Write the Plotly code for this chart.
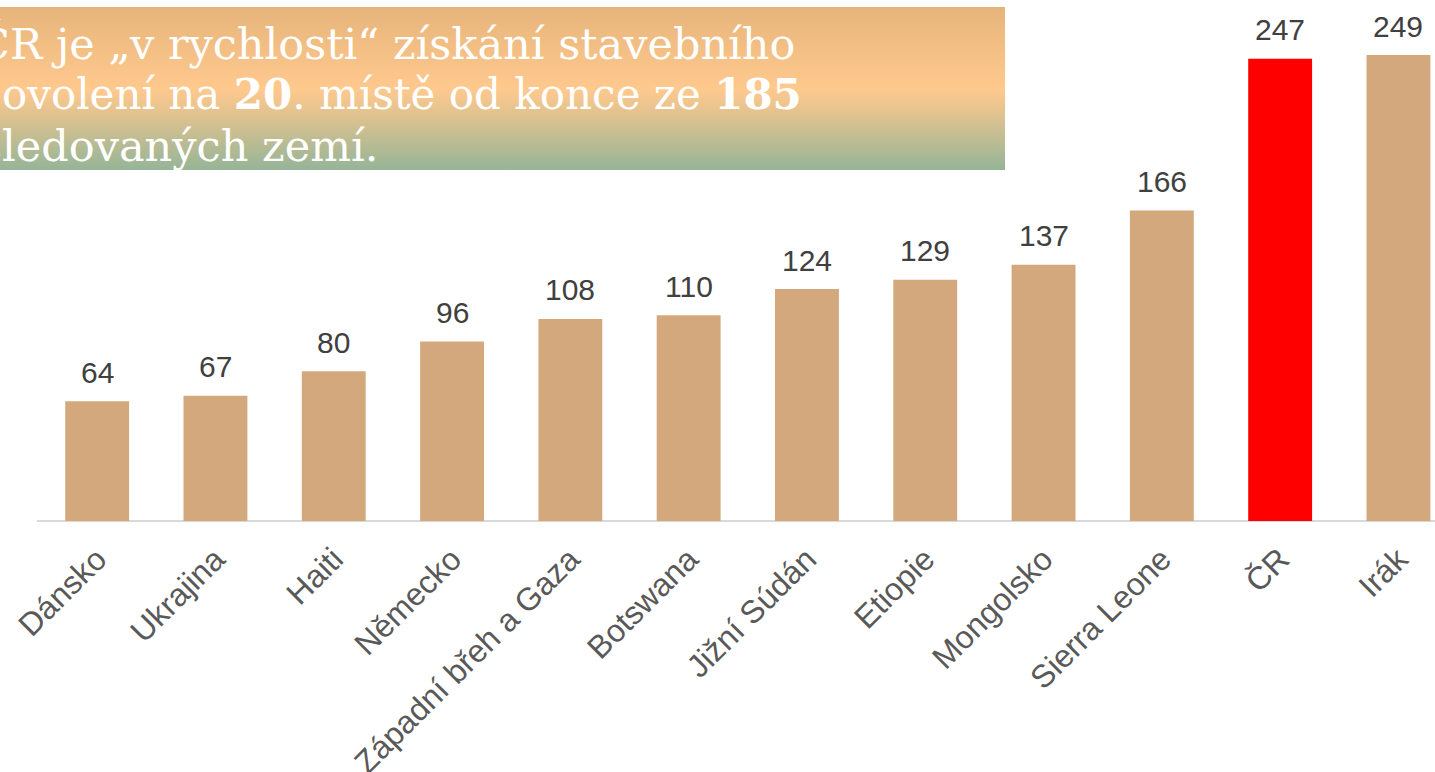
import plotly.graph_objects as go

categories = ["Dánsko", "Ukrajina", "Haiti", "Německo", "Západní břeh a Gaza", "Botswana",
              "Jižní Súdán", "Etiopie", "Mongolsko", "Sierra Leone", "ČR", "Irák"]
values = [64, 67, 80, 96, 108, 110, 124, 129, 137, 166, 247, 249]
highlight = "ČR"

title_lines = ["ČR je „v rychlosti“ získání stavebního",
               "povolení na <b>20</b>. místě od konce ze <b>185</b>",
               "sledovaných zemí."]

W, H = 1435, 772
BASE = 521          # baseline pixel row
STEP = 118.3        # category slot width, px
X0 = 38             # left edge of first slot, px
TAN = "#D3A87C"
colors = ["#FF0000" if c == highlight else TAN for c in categories]

fig = go.Figure()

# gradient title box on a pixel-unit overlay axis
fig.add_trace(go.Scatter(
    x=[0, 1005, 1005, 0, 0], y=[7, 7, 170, 170, 7], xaxis="x2", yaxis="y2",
    mode="lines", line=dict(width=0), fill="toself", hoverinfo="skip",
    fillgradient=dict(type="vertical", start=170, stop=7,
                      colorscale=[[0.0, "#95B597"], [0.38, "#E9C48F"], [0.5, "#FFC98E"],
                                  [1.0, "#E6B47A"]])))

fig.add_trace(go.Bar(x=categories, y=values, marker=dict(color=colors, line=dict(width=0)),
                     width=0.54, hoverinfo="x+y"))

# value labels
for c, v in zip(categories, values):
    fig.add_annotation(x=c, y=v, text=str(v), showarrow=False, yanchor="middle", yshift=29,
                       font=dict(family="Liberation Sans, Arial", size=30, color="#404040"))

# title lines (first letters cut off by the page edge)
line_y = [44, 95, 146]
line_x = [-25, -27, -22]
line_size = [43, 42, 43]
for t, y, x, s in zip(title_lines, line_y, line_x, line_size):
    fig.add_annotation(xref="paper", yref="paper", x=x / W, y=(BASE - y) / BASE, xanchor="left",
                       yanchor="middle", text=t, showarrow=False,
                       font=dict(family="DejaVu Serif, Century Schoolbook", size=s, color="white"))

# baseline axis line
fig.add_shape(type="line", xref="paper", yref="paper", x0=37 / W, x1=1, y0=0, y1=0,
              line=dict(color="#D9D9D9", width=2), layer="below")

fig.update_layout(
    width=W, height=H, margin=dict(l=0, r=0, t=0, b=H - BASE, pad=0, autoexpand=False),
    paper_bgcolor="white", plot_bgcolor="white", showlegend=False,
    xaxis=dict(range=[-0.5 - X0 / STEP, -0.5 + (W - X0) / STEP], showgrid=False, tickangle=-45,
               showline=False, zeroline=False, ticks="", ticklabelstandoff=12, automargin=False,
               tickfont=dict(family="Liberation Sans, Arial", size=32, color="#595959")),
    yaxis=dict(range=[0, BASE / 1.871], visible=False, showgrid=False, zeroline=False,
               automargin=False),
    xaxis2=dict(range=[0, W], overlaying="x", visible=False, anchor="y2"),
    yaxis2=dict(range=[BASE, 0], overlaying="y", visible=False, anchor="x2"),
)
fig.write_html("out.html", config={"displayModeBar": False},
               post_script="document.body.style.margin='0';")
